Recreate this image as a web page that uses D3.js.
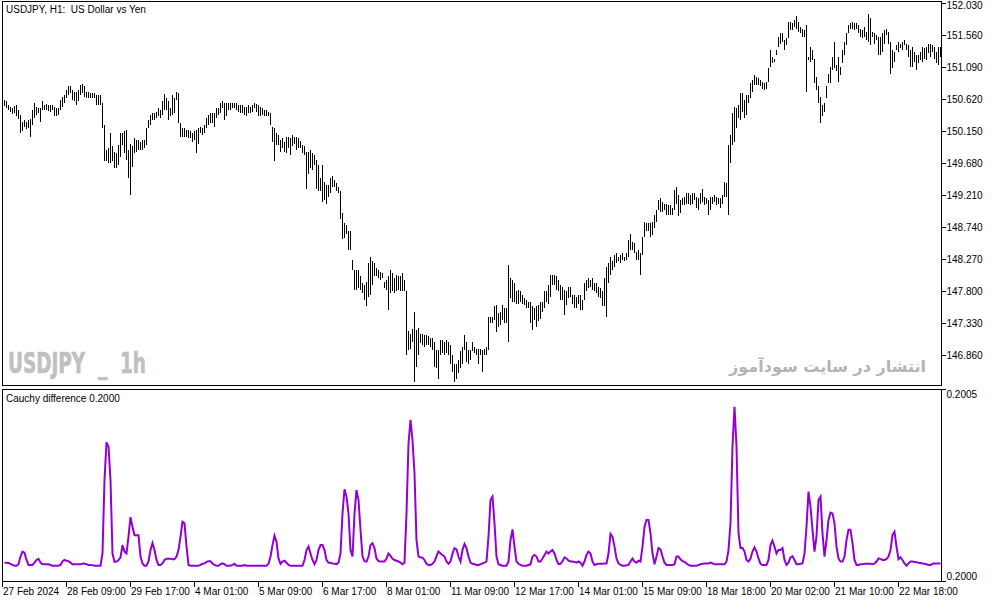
<!DOCTYPE html>
<html>
<head>
<meta charset="utf-8">
<script src="https://cdn.jsdelivr.net/npm/d3@7"></script>
<style>
body { margin: 0; background: #fff; }
svg { display: block; }
text { font-family: "Liberation Sans", Arial, sans-serif; font-size: 10px; fill: #000; }
</style>
</head>
<body>
<svg id="chart" width="994" height="603"></svg>
<script>
// USDJPY H1 bars (high / low), 27 Feb 2024 01:00 onwards
const barHigh = [
150.61,150.59,150.54,150.51,150.49,150.52,150.54,150.46,150.39,150.29,
150.32,150.29,150.32,150.33,150.46,150.56,150.51,150.49,150.49,150.59,
150.54,150.55,150.54,150.54,150.54,150.51,150.49,150.49,150.61,150.66,
150.68,150.76,150.81,150.81,150.76,150.73,150.73,150.76,150.83,150.85,
150.81,150.73,150.73,150.71,150.72,150.71,150.68,150.68,150.68,150.56,
150.24,149.88,149.90,150.12,149.93,149.85,149.83,149.95,150.12,150.12,
150.15,150.17,149.88,149.97,149.93,150.05,150.02,150.02,150.00,150.02,
150.02,150.20,150.32,150.39,150.42,150.42,150.44,150.49,150.46,150.59,
150.70,150.64,150.59,150.49,150.68,150.64,150.73,150.71,150.27,150.20,
150.20,150.17,150.17,150.15,150.12,150.15,150.17,150.20,150.22,150.20,
150.24,150.34,150.39,150.42,150.42,150.42,150.49,150.49,150.56,150.59,
150.57,150.56,150.56,150.56,150.56,150.56,150.56,150.54,150.54,150.54,
150.51,150.51,150.54,150.51,150.54,150.56,150.55,150.54,150.51,150.49,
150.46,150.46,150.44,150.42,150.22,150.20,150.12,150.10,150.02,150.05,
150.00,150.07,150.07,150.05,150.10,150.07,150.07,150.05,150.01,149.95,
149.93,149.85,149.85,149.88,149.83,149.80,149.73,149.66,149.46,149.66,
149.41,149.36,149.36,149.46,149.49,149.44,149.39,149.34,149.27,148.95,
148.80,148.78,148.68,148.68,148.26,148.12,148.12,148.12,148.02,147.92,
147.89,147.94,148.21,148.31,148.24,148.21,148.14,148.12,148.09,148.07,
147.94,147.97,148.02,148.12,148.07,147.99,148.04,148.02,148.02,148.07,
147.97,147.80,147.22,147.18,147.25,147.50,147.23,147.26,147.18,147.18,
147.16,147.16,147.14,147.11,147.11,147.06,146.94,146.94,147.09,147.09,
147.06,147.09,147.06,147.01,146.87,146.74,146.74,146.79,146.92,146.99,
147.16,147.06,146.94,146.94,147.06,146.99,146.96,146.96,146.96,146.94,
146.96,146.99,147.43,147.43,147.43,147.59,147.60,147.48,147.50,147.60,
147.55,147.55,148.19,147.99,147.97,147.92,147.80,147.82,147.80,147.75,
147.70,147.67,147.65,147.65,147.58,147.55,147.58,147.60,147.65,147.65,
147.80,147.80,147.89,148.04,148.04,148.04,148.02,147.97,147.89,147.87,
147.82,147.80,147.87,147.87,147.75,147.75,147.72,147.75,147.75,147.67,
147.92,147.97,147.99,147.97,147.99,147.92,147.92,147.87,147.85,147.80,
147.99,148.16,148.21,148.31,148.24,148.33,148.36,148.31,148.33,148.36,
148.31,148.36,148.55,148.65,148.53,148.51,148.38,148.41,148.36,148.60,
148.82,148.80,148.80,148.80,148.82,148.92,149.00,149.14,149.17,149.12,
149.09,149.09,149.07,149.07,149.02,149.29,149.34,149.22,149.14,149.17,
149.19,149.24,149.24,149.22,149.24,149.24,149.19,149.17,149.24,149.31,
149.19,149.17,149.14,149.19,149.19,149.22,149.19,149.17,149.17,149.22,
149.41,149.39,149.95,150.10,150.42,150.51,150.49,150.54,150.71,150.71,
150.61,150.68,150.68,150.86,150.90,150.98,150.95,150.93,150.90,150.88,
150.86,150.88,151.08,151.35,151.25,151.22,151.35,151.54,151.59,151.59,
151.49,151.52,151.76,151.76,151.74,151.79,151.84,151.76,151.69,151.66,
151.64,151.71,151.25,151.39,151.35,151.22,150.95,150.81,150.66,150.54,
150.56,150.81,151.00,151.10,151.25,151.47,151.13,151.25,151.10,151.35,
151.47,151.59,151.71,151.74,151.76,151.74,151.74,151.71,151.66,151.64,
151.69,151.61,151.88,151.81,151.61,151.59,151.57,151.54,151.54,151.59,
151.64,151.66,151.61,151.47,151.35,151.32,151.42,151.47,151.44,151.47,
151.49,151.44,151.42,151.35,151.39,151.32,151.27,151.27,151.32,151.39,
151.37,151.39,151.44,151.44,151.42,151.39,151.32,151.39,151.39
];
const barLow = [
150.52,150.50,150.46,150.43,150.41,150.42,150.37,150.33,150.12,150.15,
150.22,150.18,150.20,150.07,150.24,150.34,150.39,150.42,150.29,150.46,
150.46,150.46,150.45,150.44,150.46,150.37,150.37,150.39,150.46,150.51,
150.56,150.64,150.68,150.71,150.61,150.59,150.54,150.59,150.68,150.71,
150.66,150.64,150.64,150.64,150.64,150.64,150.54,150.54,150.54,150.20,
149.71,149.71,149.68,149.68,149.71,149.61,149.61,149.66,149.78,149.95,
149.83,149.73,149.46,149.22,149.63,149.83,149.85,149.88,149.88,149.88,
149.90,149.95,150.20,150.24,150.32,150.32,150.34,150.37,150.34,150.39,
150.46,150.46,150.32,150.37,150.39,150.42,150.61,150.27,150.07,150.07,
150.07,150.07,150.05,150.05,150.00,150.02,149.84,149.97,150.12,150.10,
150.12,150.20,150.24,150.27,150.27,150.22,150.34,150.39,150.42,150.49,
150.32,150.37,150.46,150.46,150.49,150.49,150.46,150.44,150.42,150.42,
150.39,150.37,150.42,150.42,150.44,150.49,150.44,150.37,150.37,150.39,
150.37,150.37,150.37,150.24,150.00,149.71,149.95,149.95,149.85,149.90,
149.85,149.83,149.90,149.80,149.93,149.97,149.88,149.90,149.90,149.83,
149.80,149.31,149.53,149.61,149.58,149.66,149.31,149.27,149.27,149.12,
149.14,149.09,149.19,149.25,149.34,149.34,149.27,149.24,148.87,148.57,
148.58,148.65,148.41,148.41,148.12,147.82,147.82,147.85,147.82,147.77,
147.67,147.58,147.72,147.75,147.89,148.02,148.02,147.99,147.97,147.99,
147.85,147.82,147.52,147.77,147.80,147.77,147.80,147.82,147.80,147.80,
147.80,146.87,146.94,146.96,147.06,146.47,146.69,146.87,147.04,147.01,
146.99,147.01,147.01,146.99,146.94,146.69,146.67,146.52,146.87,146.89,
146.87,146.89,146.87,146.74,146.62,146.47,146.52,146.60,146.67,146.74,
146.94,146.77,146.74,146.79,146.92,146.89,146.87,146.74,146.87,146.62,
146.87,146.87,146.94,147.33,147.33,147.38,147.21,147.28,147.31,147.38,
147.33,147.33,147.06,147.70,147.65,147.65,147.62,147.62,147.65,147.62,
147.60,147.55,147.55,147.33,147.23,147.38,147.28,147.36,147.40,147.50,
147.55,147.65,147.62,147.72,147.89,147.89,147.82,147.80,147.67,147.67,
147.45,147.60,147.70,147.72,147.62,147.55,147.55,147.62,147.53,147.53,
147.67,147.80,147.85,147.87,147.82,147.80,147.77,147.72,147.70,147.58,
147.58,147.43,147.92,148.04,148.11,148.16,148.21,148.24,148.21,148.26,
148.24,148.26,148.31,148.41,148.41,148.36,148.26,148.26,148.04,148.33,
148.60,148.68,148.68,148.60,148.63,148.73,148.82,149.00,148.97,148.97,
149.00,148.92,148.92,148.92,148.92,149.00,149.09,148.90,148.95,149.07,
149.07,149.09,149.09,149.07,149.09,149.14,149.02,149.00,149.09,149.12,
149.07,149.09,148.92,149.00,149.09,149.12,149.07,149.09,149.02,149.09,
149.19,149.19,148.92,149.68,149.95,150.00,150.20,150.34,150.32,150.44,
150.34,150.39,150.56,150.64,150.73,150.83,150.83,150.83,150.81,150.78,
150.76,150.78,150.88,151.10,151.15,151.17,151.27,151.39,151.44,151.47,
151.35,151.42,151.52,151.64,151.64,151.69,151.66,151.61,151.59,151.54,
151.54,150.73,151.20,151.17,151.20,150.86,150.76,150.56,150.27,150.37,
150.44,150.64,150.86,150.86,151.05,151.08,151.03,150.88,150.98,151.15,
151.27,151.42,151.59,151.66,151.66,151.64,151.66,151.59,151.54,151.52,
151.54,151.49,151.47,151.42,151.54,151.44,151.49,151.27,151.27,151.32,
151.44,151.57,151.44,151.00,151.08,151.17,151.35,151.32,151.37,151.35,
151.42,151.35,151.25,151.10,151.10,151.17,151.05,151.15,151.20,151.17,
151.22,151.20,151.30,151.25,151.32,151.22,151.15,151.13,151.25
];
// Cauchy difference indicator, one value per bar
const cauchyDiff = [
0.200048,0.200048,0.200047,0.200045,0.200042,0.200040,0.200040,0.200044,0.200064,0.200077,
0.200074,0.200055,0.200042,0.200042,0.200042,0.200048,0.200055,0.200058,0.200048,0.200044,
0.200044,0.200044,0.200044,0.200042,0.200040,0.200040,0.200040,0.200040,0.200042,0.200051,
0.200055,0.200053,0.200052,0.200048,0.200044,0.200044,0.200044,0.200044,0.200044,0.200045,
0.200046,0.200044,0.200042,0.200042,0.200041,0.200040,0.200040,0.200040,0.200040,0.200072,
0.200264,0.200363,0.200352,0.200264,0.200072,0.200050,0.200051,0.200055,0.200062,0.200094,
0.200077,0.200072,0.200116,0.200167,0.200142,0.200120,0.200120,0.200120,0.200064,0.200046,
0.200040,0.200040,0.200051,0.200081,0.200099,0.200081,0.200055,0.200042,0.200042,0.200046,
0.200055,0.200058,0.200058,0.200058,0.200057,0.200057,0.200064,0.200081,0.200116,0.200155,
0.200151,0.200090,0.200042,0.200040,0.200040,0.200040,0.200040,0.200040,0.200042,0.200045,
0.200046,0.200050,0.200052,0.200052,0.200046,0.200042,0.200040,0.200040,0.200044,0.200046,
0.200044,0.200040,0.200040,0.200040,0.200042,0.200045,0.200040,0.200040,0.200040,0.200040,
0.200042,0.200040,0.200040,0.200040,0.200040,0.200040,0.200040,0.200040,0.200040,0.200040,
0.200040,0.200040,0.200045,0.200064,0.200094,0.200119,0.200103,0.200059,0.200045,0.200051,
0.200053,0.200048,0.200042,0.200040,0.200040,0.200040,0.200040,0.200040,0.200040,0.200040,
0.200055,0.200081,0.200090,0.200072,0.200055,0.200044,0.200055,0.200081,0.200094,0.200094,
0.200081,0.200055,0.200048,0.200048,0.200046,0.200045,0.200044,0.200048,0.200072,0.200177,
0.200240,0.200221,0.200177,0.200081,0.200064,0.200177,0.200238,0.200212,0.200134,0.200064,
0.200052,0.200051,0.200064,0.200094,0.200099,0.200086,0.200059,0.200052,0.200051,0.200051,
0.200051,0.200059,0.200072,0.200066,0.200058,0.200055,0.200053,0.200051,0.200048,0.200044,
0.200048,0.200177,0.200360,0.200422,0.200369,0.200282,0.200107,0.200064,0.200062,0.200061,
0.200055,0.200045,0.200042,0.200042,0.200045,0.200051,0.200065,0.200077,0.200072,0.200068,
0.200064,0.200051,0.200045,0.200051,0.200072,0.200086,0.200083,0.200064,0.200051,0.200081,
0.200097,0.200086,0.200064,0.200048,0.200045,0.200044,0.200042,0.200042,0.200044,0.200046,
0.200048,0.200051,0.200116,0.200212,0.200221,0.200151,0.200064,0.200044,0.200042,0.200040,
0.200040,0.200040,0.200051,0.200107,0.200135,0.200090,0.200051,0.200045,0.200042,0.200040,
0.200040,0.200040,0.200042,0.200044,0.200064,0.200068,0.200064,0.200051,0.200051,0.200059,
0.200068,0.200077,0.200072,0.200077,0.200081,0.200072,0.200055,0.200044,0.200045,0.200052,
0.200062,0.200059,0.200053,0.200051,0.200051,0.200050,0.200048,0.200051,0.200048,0.200040,
0.200051,0.200068,0.200077,0.200072,0.200051,0.200042,0.200044,0.200045,0.200045,0.200045,
0.200046,0.200046,0.200072,0.200123,0.200116,0.200090,0.200059,0.200046,0.200042,0.200040,
0.200040,0.200041,0.200042,0.200051,0.200059,0.200051,0.200048,0.200053,0.200051,0.200090,
0.200142,0.200160,0.200160,0.200125,0.200072,0.200044,0.200064,0.200086,0.200083,0.200064,
0.200048,0.200042,0.200042,0.200042,0.200042,0.200044,0.200064,0.200064,0.200057,0.200052,
0.200050,0.200046,0.200042,0.200040,0.200040,0.200040,0.200040,0.200042,0.200044,0.200045,
0.200046,0.200046,0.200046,0.200048,0.200046,0.200044,0.200044,0.200044,0.200044,0.200044,
0.200044,0.200051,0.200081,0.200151,0.200352,0.200456,0.200352,0.200125,0.200086,0.200087,
0.200077,0.200055,0.200051,0.200059,0.200077,0.200088,0.200077,0.200059,0.200045,0.200042,
0.200042,0.200042,0.200055,0.200094,0.200106,0.200090,0.200072,0.200081,0.200081,0.200086,
0.200055,0.200042,0.200048,0.200062,0.200065,0.200055,0.200044,0.200044,0.200045,0.200046,
0.200072,0.200142,0.200234,0.200195,0.200134,0.200077,0.200116,0.200212,0.200221,0.200125,
0.200064,0.200107,0.200160,0.200179,0.200177,0.200151,0.200090,0.200059,0.200051,0.200051,
0.200064,0.200107,0.200134,0.200134,0.200099,0.200055,0.200042,0.200042,0.200044,0.200044,
0.200045,0.200045,0.200045,0.200045,0.200044,0.200046,0.200051,0.200059,0.200058,0.200055,
0.200055,0.200058,0.200064,0.200081,0.200120,0.200129,0.200090,0.200057,0.200062,0.200055,
0.200046,0.200040,0.200046,0.200051,0.200051,0.200050,0.200049,0.200048,0.200047,0.200046,
0.200045,0.200044,0.200042,0.200042,0.200045,0.200046,0.200046,0.200046,0.200046
];
const timeLabels = ["27 Feb 2024","28 Feb 09:00","29 Feb 17:00","4 Mar 01:00","5 Mar 09:00",
  "6 Mar 17:00","8 Mar 01:00","11 Mar 09:00","12 Mar 17:00","14 Mar 01:00","15 Mar 09:00",
  "18 Mar 18:00","20 Mar 02:00","21 Mar 10:00","22 Mar 18:00"];
const timeTickBars = [0,32,64,96,128,160,192,224,256,288,320,352,384,416,448];
const priceTicks = [146.860,147.330,147.800,148.270,148.740,149.210,149.680,150.150,150.620,151.090,151.560,152.030];
const cauchyTicks = [0.2000, 0.2005];

const svg = d3.select("#chart");
const W = 994, H = 603;
const plotL = 2.5, plotR = 941.5;
const top1 = 1.5, bot1 = 385.5;   // price window
const top2 = 389.5, bot2 = 581.5; // indicator window

// bar j sits at x = 2 + 2j; data index i is bar j = i + 1
const x = d3.scaleLinear().domain([0, 470]).range([2, 942]);
const yPrice = d3.scaleLinear().domain([146.40, 152.08]).range([386.7, 0]);
const yInd = d3.scaleLinear().domain([0.2000, 0.2005]).range([581, 390]);

svg.append("rect").attr("width", W).attr("height", H).attr("fill", "#fff");

// watermarks
svg.append("text")
	.attr("x", 8).attr("y", 373)
	.attr("textLength", 138).attr("lengthAdjust", "spacingAndGlyphs")
	.style("font-family", "'Liberation Sans Narrow','DejaVu Sans Condensed','Liberation Sans',sans-serif")
	.style("font-size", "29px").style("font-weight", "bold")
	.style("fill", "#c0c0c0")
	.style("stroke", "#c0c0c0").style("stroke-width", "0.6px")
	.attr("xml:space", "preserve")
	.text("USDJPY  _  1h");

svg.append("text")
	.attr("x", 926).attr("y", 372)
	.attr("text-anchor", "start")
	.attr("direction", "rtl")
	.style("font-family", "'DejaVu Sans',sans-serif")
	.style("font-size", "16px").style("font-weight", "bold")
	.style("fill", "#b4b4b4")
	.text("انتشار در سایت سودآموز");

// price bars
svg.append("g")
	.attr("shape-rendering", "crispEdges")
	.selectAll("line")
	.data(barHigh)
	.join("line")
	.attr("x1", (d, i) => Math.round(x(i + 1)) + 0.5)
	.attr("x2", (d, i) => Math.round(x(i + 1)) + 0.5)
	.attr("y1", d => Math.round(yPrice(d)))
	.attr("y2", (d, i) => Math.max(Math.round(yPrice(barLow[i])), Math.round(yPrice(d)) + 1))
	.attr("stroke", "#000")
	.attr("stroke-width", 1);

// indicator line
const line = d3.line()
	.x((d, i) => Math.round(x(i + 1)) + 0.5)
	.y(d => yInd(d));

svg.append("path")
	.datum(cauchyDiff)
	.attr("d", line)
	.attr("fill", "none")
	.attr("stroke", "#9400d3")
	.attr("stroke-width", 2)
	.attr("stroke-linejoin", "miter");

// frames
const frames = svg.append("g").attr("fill", "none").attr("stroke", "#000").attr("shape-rendering", "crispEdges");
frames.append("rect").attr("x", plotL).attr("y", top1).attr("width", plotR - plotL).attr("height", bot1 - top1);
frames.append("rect").attr("x", plotL).attr("y", top2).attr("width", plotR - plotL).attr("height", bot2 - top2);

// price axis
const pAxis = svg.append("g");
pAxis.selectAll("line")
	.data(priceTicks)
	.join("line")
	.attr("x1", plotR).attr("x2", plotR + 4)
	.attr("y1", d => Math.round(yPrice(d)) + 0.5)
	.attr("y2", d => Math.round(yPrice(d)) + 0.5)
	.attr("stroke", "#000").attr("shape-rendering", "crispEdges");
pAxis.selectAll("text")
	.data(priceTicks)
	.join("text")
	.attr("x", plotR + 5)
	.attr("y", d => Math.max(yPrice(d), 5))
	.attr("dy", "0.35em")
	.text(d => d3.format(".3f")(d));

// indicator axis
const iAxis = svg.append("g");
iAxis.selectAll("line")
	.data(cauchyTicks)
	.join("line")
	.attr("x1", plotR).attr("x2", plotR + 4)
	.attr("y1", d => d === 0.2005 ? top2 : bot2)
	.attr("y2", d => d === 0.2005 ? top2 : bot2)
	.attr("stroke", "#000").attr("shape-rendering", "crispEdges");
iAxis.selectAll("text")
	.data(cauchyTicks)
	.join("text")
	.attr("x", plotR + 5)
	.attr("y", d => d === 0.2005 ? top2 + 5 : bot2 - 5)
	.attr("dy", "0.35em")
	.text(d => d3.format(".4f")(d));

// time axis
const tAxis = svg.append("g");
tAxis.selectAll("line")
	.data(timeTickBars)
	.join("line")
	.attr("x1", d => Math.round(x(d)) + 0.5)
	.attr("x2", d => Math.round(x(d)) + 0.5)
	.attr("y1", bot2).attr("y2", bot2 + 5)
	.attr("stroke", "#000").attr("shape-rendering", "crispEdges");
tAxis.selectAll("text")
	.data(timeLabels)
	.join("text")
	.attr("x", (d, i) => Math.round(x(timeTickBars[i])) + 1)
	.attr("y", 595)
	.text(d => d);

// window captions
svg.append("text").attr("x", 6).attr("y", 13).attr("xml:space", "preserve").text("USDJPY, H1:  US Dollar vs Yen");
svg.append("text").attr("x", 6).attr("y", 402).text("Cauchy difference 0.2000");
</script>
</body>
</html>
